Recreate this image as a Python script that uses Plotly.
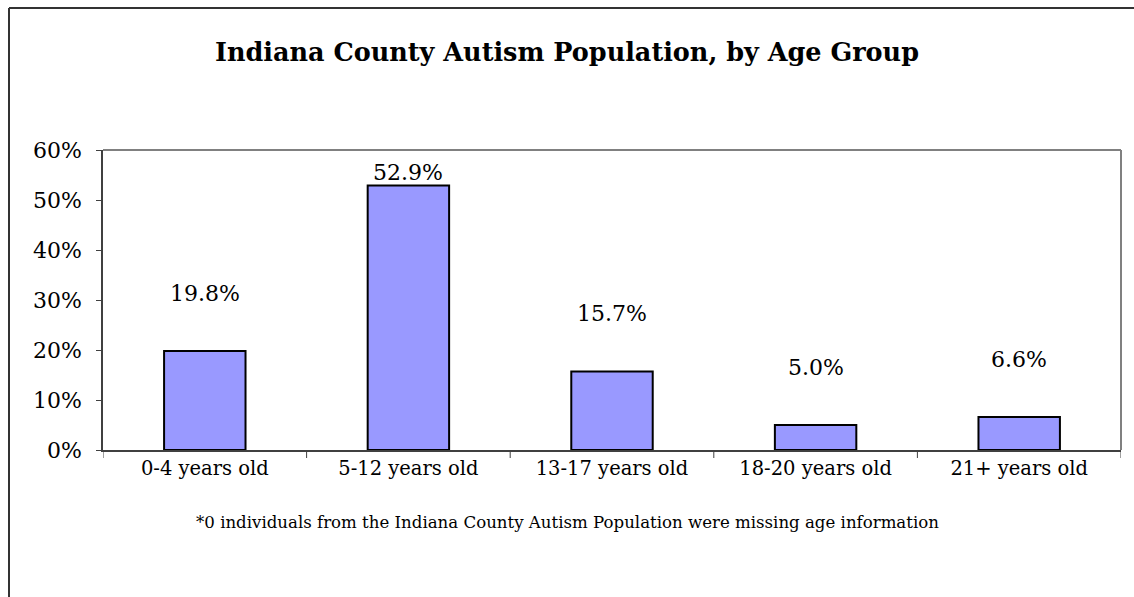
import plotly.graph_objects as go

categories = ["0-4 years old", "5-12 years old", "13-17 years old", "18-20 years old", "21+ years old"]
values = [19.8, 52.9, 15.7, 5.0, 6.6]
y_ticks = [0, 10, 20, 30, 40, 50, 60]
y_tick_labels = [f"{t}%" for t in y_ticks]
title = "Indiana County Autism Population, by Age Group"
footnote = "*0 individuals from the Indiana County Autism Population were missing age information"

W, H = 1134, 597
ML, MR, MT, MB = 103, 13, 150, 147
PW, PH = W - ML - MR, H - MT - MB
YMAX = 60
FONT = "DejaVu Serif"

fig = go.Figure()
fig.add_trace(go.Bar(
    x=categories, y=values,
    marker=dict(color="#9999FF", line=dict(color="black", width=2)),
    width=0.4, hoverinfo="skip",
))

annotations = []
for c, v in zip(categories, values):
    px = PH * v / YMAX
    shift = min(58, (PH - 22) - px)
    annotations.append(dict(x=c, y=v, text=f"{v:.1f}%", showarrow=False,
                            yshift=shift, yanchor="middle",
                            font=dict(family=FONT, size=22, color="black")))
annotations.append(dict(x=(W / 2 - ML) / PW, xref="paper", xanchor="center",
                        y=(PH - (522 - MT)) / PH, yref="paper", yanchor="middle",
                        text=footnote, showarrow=False,
                        font=dict(family=FONT, size=16.6, color="black")))
annotations.append(dict(x=(W / 2 - ML) / PW, xref="paper", xanchor="center",
                        y=(PH + MT - 52) / PH, yref="paper", yanchor="middle",
                        text=f"<b>{title}</b>", showarrow=False,
                        font=dict(family=FONT, size=25.5, color="black")))

shapes = [
    # outer frame (only top and left edges fall inside the picture)
    dict(type="line", xref="paper", yref="paper",
         x0=(9 - ML) / PW, x1=(W + 5 - ML) / PW,
         y0=(PH + MT - 8) / PH, y1=(PH + MT - 8) / PH,
         line=dict(color="#333333", width=2)),
    dict(type="line", xref="paper", yref="paper",
         x0=(9 - ML) / PW, x1=(9 - ML) / PW,
         y0=(PH + MT - 8) / PH, y1=(PH + MT - (H + 5)) / PH,
         line=dict(color="#333333", width=2)),
    dict(type="line", xref="paper", yref="paper", x0=0, x1=1, y0=1, y1=1,
         line=dict(color="#808080", width=2)),
    dict(type="line", xref="paper", yref="paper", x0=1, x1=1, y0=0, y1=1,
         line=dict(color="#808080", width=2)),
]
for i in range(len(categories) + 1):
    shapes.append(dict(type="line", xref="x", yref="paper", x0=i - 0.5, x1=i - 0.5,
                       y0=0, y1=-8 / PH, line=dict(color="#404040", width=1)))

fig.update_layout(
    width=W, height=H,
    margin=dict(l=ML, r=MR, t=MT, b=MB),
    paper_bgcolor="white", plot_bgcolor="white",
    showlegend=False,
    annotations=annotations, shapes=shapes,
    font=dict(family=FONT, color="black"),
)
fig.update_xaxes(
    range=[-0.5, len(categories) - 0.5],
    showline=True, linecolor="#404040", linewidth=1.5,
    ticks="", showgrid=False, ticklabelstandoff=0,
    tickfont=dict(family=FONT, size=19.5, color="black"),
)
fig.update_yaxes(
    range=[0, YMAX], tickvals=y_ticks, ticktext=y_tick_labels,
    showline=True, linecolor="#404040", linewidth=1.5,
    ticks="outside", ticklen=5, tickcolor="#404040", showgrid=False,
    ticklabelstandoff=10, zeroline=False,
    tickfont=dict(family=FONT, size=22, color="black"),
)

fig.write_html("out.html", config={"displayModeBar": False},
               post_script="document.body.style.margin='0';")
